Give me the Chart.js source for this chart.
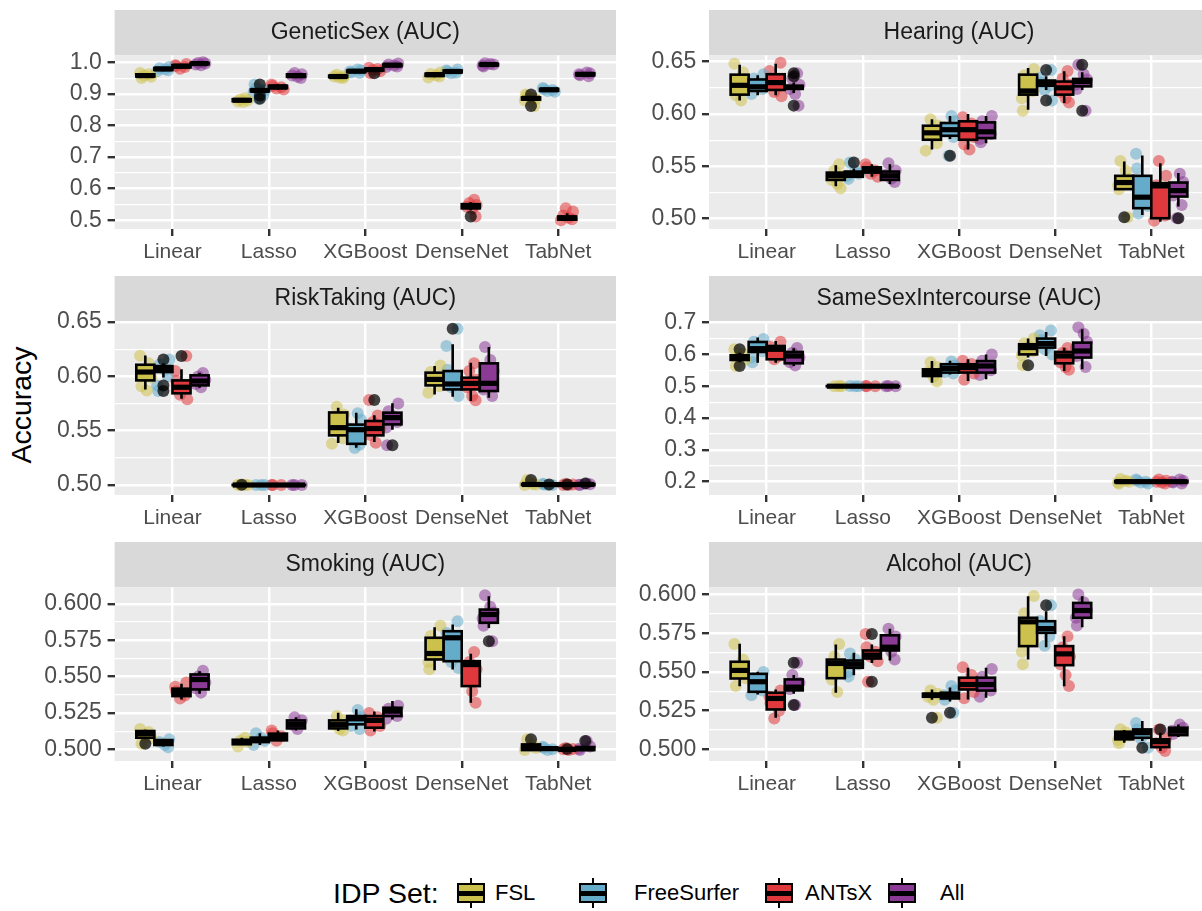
<!DOCTYPE html>
<html>
<head>
<meta charset="utf-8">
<script src="https://cdn.jsdelivr.net/npm/chart.js@4.4.0/dist/chart.umd.min.js"></script>
<style>
html, body { margin: 0; padding: 0; background: #fff; overflow: hidden; }
body { width: 1202px; height: 911px; position: relative; font-family: "Liberation Sans", Arial, sans-serif; }
canvas { position: absolute; }
#ylab { position: absolute; left: -79px; top: 388px; width: 200px; height: 34px; line-height: 34px;
        text-align: center; font-size: 28.5px; color: #000; transform: rotate(-90deg); }
.lg { position: absolute; }
.lg-title { font-size: 28.5px; color: #000; top: 876px; line-height: 34px; }
.lg-text { font-size: 22px; color: #000; top: 876px; line-height: 34px; }
.key { width: 32px; height: 34px; top: 876px; }
.key .wh { position: absolute; left: 14.7px; width: 2.6px; top: 2px; bottom: 2px; background: #000; }
.key .bx { position: absolute; left: 2px; right: 2px; top: 7px; bottom: 7px; border: 2.6px solid #000; box-sizing: border-box; }
.key .md { position: absolute; left: 2px; right: 2px; top: 14.5px; height: 5px; background: #000; }
</style>
</head>
<body>
<div id="ylab">Accuracy</div>
<script>
// categories
const MODELS = ['Linear', 'Lasso', 'XGBoost', 'DenseNet', 'TabNet'];
const SETS = ['FSL', 'FreeSurfer', 'ANTsX', 'All'];
const COLORS = ['#CDC14E', '#65ACCA', '#E0393D', '#8B3A95'];

// box stats per set, per model: [lower whisker, q1, median, q3, upper whisker]
const sexBoxes = [
  [[0.950,0.955,0.958,0.962,0.966],[0.874,0.877,0.880,0.883,0.886],[0.950,0.953,0.955,0.958,0.961],[0.953,0.957,0.961,0.964,0.968],[0.878,0.882,0.886,0.889,0.893]],
  [[0.972,0.976,0.979,0.982,0.985],[0.905,0.908,0.911,0.914,0.918],[0.966,0.969,0.972,0.974,0.977],[0.965,0.968,0.971,0.974,0.977],[0.907,0.910,0.913,0.916,0.919]],
  [[0.980,0.984,0.988,0.991,0.995],[0.914,0.918,0.922,0.926,0.930],[0.970,0.974,0.977,0.980,0.983],[0.532,0.538,0.543,0.551,0.558],[0.499,0.502,0.507,0.512,0.522]],
  [[0.991,0.994,0.996,0.998,1.000],[0.950,0.954,0.958,0.962,0.966],[0.985,0.988,0.991,0.993,0.996],[0.987,0.990,0.993,0.995,0.997],[0.956,0.959,0.962,0.965,0.968]]
];
const sexPoints = [
  [[0.966,0.962,0.958,0.954,0.950],[0.886,0.882,0.879,0.876,0.874],[0.961,0.957,0.955,0.952,0.950],[0.968,0.963,0.959,0.955,0.952],[0.893,0.888,0.884,0.879,0.898,0.862]],
  [[0.985,0.981,0.978,0.975,0.972],[0.918,0.913,0.910,0.906,0.930,0.895,0.885],[0.977,0.974,0.971,0.968,0.966],[0.977,0.974,0.971,0.967,0.965],[0.919,0.915,0.912,0.909,0.907]],
  [[0.995,0.991,0.988,0.985,0.980],[0.930,0.925,0.921,0.917,0.914],[0.983,0.979,0.976,0.972,0.965],[0.565,0.555,0.548,0.543,0.537,0.512],[0.538,0.528,0.515,0.508,0.503,0.500]],
  [[1.000,0.998,0.996,0.993,0.991],[0.966,0.962,0.958,0.954,0.950],[0.996,0.993,0.990,0.987,0.985],[0.997,0.995,0.993,0.990,0.987],[0.968,0.965,0.962,0.959,0.956]]
];
const sexOutliers = [
  [[],[],[],[],[0.898,0.862]],
  [[],[0.930,0.895,0.885],[],[],[]],
  [[],[],[0.965],[0.512],[]],
  [[],[],[],[],[]]
];

const hearBoxes = [
  [[0.613,0.6185,0.6274,0.6376,0.647],[0.531,0.537,0.541,0.544,0.551],[0.566,0.5754,0.582,0.5888,0.595],[0.604,0.6185,0.622,0.6376,0.644],[0.5275,0.5282,0.5345,0.5409,0.5546]],
  [[0.618,0.622,0.626,0.633,0.637],[0.539,0.540,0.542,0.545,0.548],[0.576,0.5792,0.585,0.5914,0.598],[0.623,0.627,0.629,0.632,0.636],[0.5035,0.510,0.5205,0.5409,0.5603]],
  [[0.618,0.623,0.630,0.638,0.648],[0.540,0.544,0.547,0.549,0.552],[0.566,0.5754,0.585,0.593,0.600],[0.6105,0.6185,0.625,0.631,0.6408],[0.497,0.5004,0.5313,0.5339,0.553]],
  [[0.620,0.624,0.6255,0.627,0.630],[0.533,0.537,0.541,0.545,0.552],[0.572,0.577,0.583,0.592,0.598],[0.623,0.6264,0.631,0.6335,0.640],[0.5115,0.5211,0.5268,0.5345,0.5435]]
];
const hearPoints = [
  [[0.648,0.640,0.633,0.625,0.618,0.613],[0.552,0.546,0.541,0.537,0.533,0.529],[0.595,0.589,0.584,0.579,0.572,0.565],[0.643,0.637,0.630,0.622,0.615,0.603],[0.555,0.546,0.538,0.532,0.528,0.5013]],
  [[0.638,0.634,0.629,0.624,0.619],[0.5537,0.546,0.543,0.541,0.538],[0.598,0.593,0.587,0.583,0.578,0.560],[0.642,0.635,0.630,0.627,0.623,0.613],[0.562,0.548,0.535,0.522,0.512,0.505]],
  [[0.649,0.641,0.634,0.627,0.621,0.617],[0.552,0.549,0.546,0.543,0.540],[0.597,0.591,0.585,0.578,0.571,0.566],[0.641,0.634,0.628,0.621,0.615,0.611],[0.555,0.541,0.532,0.515,0.503,0.498]],
  [[0.639,0.634,0.628,0.624,0.619,0.608],[0.553,0.546,0.542,0.538,0.535],[0.598,0.593,0.587,0.581,0.576,0.573],[0.647,0.638,0.633,0.628,0.624,0.603],[0.543,0.535,0.529,0.522,0.513,0.5004]]
];
const hearOutliers = [
  [[],[],[],[],[0.5013]],
  [[],[0.5537],[0.560],[0.642,0.613],[]],
  [[],[],[],[],[]],
  [[0.639,0.636,0.608],[],[],[0.647,0.603],[0.5004]]
];

const riskBoxes = [
  [[0.588,0.5963,0.604,0.6107,0.6193],[0.4998,0.4999,0.5000,0.5001,0.5002],[0.5386,0.5457,0.5528,0.5668,0.5712],[0.5834,0.5917,0.5972,0.6034,0.6095],[0.4999,0.5000,0.5005,0.5010,0.5012]],
  [[0.599,0.604,0.607,0.6095,0.612],[0.4999,0.4999,0.5000,0.5001,0.5001],[0.5344,0.5379,0.5509,0.5556,0.5666],[0.5813,0.588,0.593,0.6049,0.6295],[0.4999,0.5000,0.5004,0.5008,0.5012]],
  [[0.5795,0.5844,0.590,0.5963,0.6065],[0.4999,0.4999,0.5000,0.5001,0.5001],[0.5396,0.5457,0.552,0.5589,0.5641],[0.5773,0.588,0.5935,0.5988,0.6126],[0.4999,0.5000,0.5004,0.5008,0.5012]],
  [[0.5896,0.5917,0.5957,0.601,0.6034],[0.4999,0.4999,0.5000,0.5001,0.5001],[0.5509,0.5558,0.562,0.5666,0.5752],[0.5804,0.5865,0.5936,0.612,0.627],[0.4999,0.5000,0.5005,0.5008,0.5012]]
];
const riskPoints = [
  [[0.619,0.612,0.606,0.599,0.591,0.587],[0.5002,0.5000,0.4999,0.5003],[0.572,0.565,0.557,0.550,0.543,0.538],[0.610,0.604,0.598,0.591,0.585],[0.5045,0.5010,0.5005,0.5000]],
  [[0.6156,0.611,0.606,0.600,0.5917,0.5865],[0.5001,0.5000,0.4999],[0.566,0.560,0.552,0.545,0.537,0.534],[0.6439,0.628,0.606,0.598,0.590,0.582],[0.5012,0.5005,0.5000,0.4999]],
  [[0.6187,0.605,0.596,0.589,0.583,0.579],[0.5001,0.5000,0.4999],[0.5782,0.564,0.558,0.552,0.546,0.539],[0.612,0.605,0.597,0.590,0.582,0.578],[0.5012,0.5005,0.5000,0.4999]],
  [[0.603,0.600,0.597,0.593,0.590],[0.5001,0.5000,0.4999],[0.575,0.568,0.563,0.558,0.553,0.5365],[0.627,0.615,0.605,0.595,0.588,0.582],[0.5015,0.5008,0.5003,0.5000]]
];
const riskOutliers = [
  [[],[0.5003],[],[],[0.5045]],
  [[0.6156,0.5917,0.5865],[],[],[0.6439],[0.5005]],
  [[0.6187],[],[0.5782],[],[0.5005]],
  [[],[],[0.5365],[],[0.5015]]
];

const ssiBoxes = [
  [[0.575,0.5824,0.590,0.597,0.605],[0.4995,0.4998,0.500,0.5002,0.5005],[0.511,0.532,0.5428,0.553,0.579],[0.590,0.600,0.6214,0.6318,0.650],[0.195,0.198,0.200,0.202,0.205]],
  [[0.574,0.6076,0.618,0.639,0.653],[0.4995,0.4998,0.500,0.5002,0.5005],[0.537,0.5428,0.556,0.569,0.580],[0.595,0.6214,0.634,0.6497,0.670],[0.196,0.198,0.200,0.202,0.204]],
  [[0.574,0.5846,0.616,0.6264,0.642],[0.4995,0.4998,0.500,0.5002,0.5005],[0.5164,0.5428,0.5585,0.569,0.5846],[0.548,0.572,0.595,0.6076,0.621],[0.196,0.198,0.200,0.202,0.204]],
  [[0.5635,0.572,0.595,0.6076,0.6195],[0.4995,0.4998,0.500,0.5002,0.5005],[0.5217,0.5428,0.5635,0.579,0.600],[0.553,0.590,0.6107,0.637,0.679],[0.196,0.198,0.200,0.202,0.204]]
];
const ssiPoints = [
  [[0.616,0.602,0.592,0.584,0.5635],[0.5005,0.500,0.4995],[0.575,0.560,0.545,0.530,0.515],[0.650,0.635,0.625,0.610,0.597,0.5657],[0.208,0.203,0.200,0.197,0.193]],
  [[0.648,0.640,0.625,0.610,0.590,0.575],[0.5005,0.500,0.4995],[0.578,0.565,0.555,0.545,0.540],[0.675,0.660,0.645,0.630,0.615,0.600],[0.207,0.203,0.200,0.197,0.194]],
  [[0.640,0.625,0.610,0.595,0.585],[0.5005,0.500,0.4995],[0.580,0.570,0.555,0.540,0.520],[0.620,0.605,0.590,0.575,0.560,0.552],[0.207,0.203,0.200,0.197,0.194]],
  [[0.620,0.605,0.590,0.575,0.565],[0.5005,0.500,0.4995],[0.600,0.580,0.565,0.550,0.535],[0.685,0.665,0.640,0.620,0.595,0.560],[0.207,0.203,0.200,0.197,0.194]]
];
const ssiOutliers = [
  [[0.616,0.5635],[],[],[0.5657],[]],
  [[],[],[],[],[]],
  [[],[],[],[],[]],
  [[],[],[],[],[]]
];

const smkBoxes = [
  [[0.5075,0.508,0.5108,0.5126,0.5135],[0.503,0.5035,0.5053,0.5066,0.508],[0.5126,0.5144,0.517,0.5199,0.5252],[0.5544,0.5618,0.5659,0.5767,0.584],[0.4993,0.4995,0.5016,0.5034,0.5045]],
  [[0.502,0.503,0.5046,0.5064,0.507],[0.503,0.505,0.5069,0.508,0.511],[0.5137,0.5172,0.521,0.5229,0.5275],[0.5549,0.5606,0.5767,0.5812,0.5858],[0.4995,0.4998,0.5005,0.501,0.5015]],
  [[0.5343,0.5366,0.539,0.5417,0.5451],[0.5057,0.5062,0.5085,0.5108,0.513],[0.5123,0.5149,0.5199,0.5229,0.526],[0.532,0.5435,0.5583,0.5606,0.5657],[0.4995,0.4998,0.500,0.5005,0.501]],
  [[0.5382,0.5412,0.548,0.5515,0.5537],[0.513,0.5144,0.5172,0.5199,0.5221],[0.5206,0.5229,0.5263,0.5286,0.5332],[0.5835,0.587,0.5927,0.5961,0.6052],[0.4993,0.4995,0.5005,0.5016,0.502]]
];
const smkPoints = [
  [[0.514,0.512,0.510,0.508,0.5039],[0.508,0.506,0.505,0.502],[0.523,0.520,0.517,0.514,0.513],[0.585,0.578,0.570,0.565,0.560,0.555],[0.5069,0.503,0.501,0.4995]],
  [[0.507,0.505,0.503,0.5015],[0.511,0.508,0.506,0.503],[0.527,0.522,0.520,0.516,0.514],[0.588,0.580,0.575,0.568,0.560,0.556],[0.5018,0.501,0.500,0.4995]],
  [[0.546,0.543,0.540,0.537,0.535],[0.513,0.511,0.509,0.506],[0.525,0.522,0.519,0.516,0.513],[0.567,0.560,0.555,0.548,0.540,0.532],[0.501,0.5003,0.500,0.4996]],
  [[0.554,0.550,0.546,0.542,0.539],[0.522,0.520,0.517,0.514],[0.530,0.528,0.526,0.523,0.521],[0.606,0.598,0.594,0.590,0.585,0.5743],[0.5057,0.502,0.5005,0.4995]]
];
const smkOutliers = [
  [[0.5039],[],[],[],[0.5069]],
  [[],[],[],[],[]],
  [[],[],[],[],[0.5003]],
  [[],[],[],[0.5743],[0.5057]]
];

const alcBoxes = [
  [[0.5408,0.5458,0.551,0.5566,0.5682],[0.5366,0.546,0.5555,0.558,0.5677],[0.532,0.534,0.535,0.536,0.5387],[0.5581,0.5667,0.5824,0.585,0.5989],[0.5043,0.5065,0.509,0.5114,0.5126]],
  [[0.5355,0.5372,0.5437,0.5488,0.5502],[0.5479,0.5527,0.555,0.5574,0.5624],[0.531,0.5329,0.535,0.5366,0.540],[0.566,0.5753,0.578,0.5828,0.5892],[0.5054,0.5075,0.5108,0.5129,0.5183]],
  [[0.5204,0.5258,0.5329,0.5366,0.5387],[0.5558,0.5587,0.5609,0.5639,0.5677],[0.5323,0.5387,0.5419,0.5463,0.5527],[0.5408,0.5544,0.5617,0.5667,0.5731],[0.499,0.5015,0.505,0.5065,0.5108]],
  [[0.536,0.5381,0.5402,0.5452,0.548],[0.5574,0.5639,0.566,0.5737,0.578],[0.5333,0.538,0.5419,0.5463,0.5527],[0.5789,0.585,0.5897,0.5946,0.5989],[0.508,0.5092,0.5118,0.514,0.516]]
];
const alcPoints = [
  [[0.568,0.558,0.552,0.546,0.541],[0.568,0.560,0.553,0.545,0.537],[0.538,0.536,0.534,0.532,0.5205],[0.599,0.588,0.578,0.570,0.563,0.555],[0.513,0.511,0.509,0.506,0.504]],
  [[0.550,0.546,0.542,0.538,0.535],[0.562,0.558,0.555,0.550,0.547],[0.541,0.538,0.535,0.532,0.5237],[0.5931,0.583,0.578,0.573,0.567],[0.517,0.513,0.510,0.507,0.5011]],
  [[0.538,0.534,0.530,0.525,0.520],[0.5746,0.566,0.563,0.560,0.557,0.5437],[0.553,0.548,0.542,0.537,0.533],[0.573,0.566,0.560,0.555,0.548,0.541],[0.5129,0.507,0.504,0.501,0.499]],
  [[0.556,0.548,0.543,0.539,0.5286],[0.578,0.573,0.568,0.563,0.558],[0.552,0.547,0.542,0.538,0.534],[0.600,0.595,0.590,0.585,0.580],[0.516,0.514,0.512,0.510]]
];
const alcOutliers = [
  [[],[],[0.5205],[],[]],
  [[],[],[0.5237],[0.5931],[0.5011]],
  [[],[0.5746,0.5437],[],[],[0.5129]],
  [[0.556,0.5286],[],[],[],[]]
];

// y tick labels per panel and axis limits
const sexTicks = [0.5, 0.6, 0.7, 0.8, 0.9, 1.0];
const hearTicks = [0.50, 0.55, 0.60, 0.65];
const riskTicks = [0.50, 0.55, 0.60, 0.65];
const ssiTicks = [0.2, 0.3, 0.4, 0.5, 0.6, 0.7];
const smkTicks = [0.500, 0.525, 0.550, 0.575, 0.600];
const alcTicks = [0.500, 0.525, 0.550, 0.575, 0.600];
const sexRange = [0.4724, 1.0222];
const hearRange = [0.4901, 0.6561];
const riskRange = [0.4908, 0.6507];
const ssiRange = [0.158, 0.704];
const smkRange = [0.492, 0.6114];
const alcRange = [0.4925, 0.6047];

const FONT = "'Liberation Sans', Arial, sans-serif";
const DODGE = [-0.28125, -0.09375, 0.09375, 0.28125];
const HALF = 0.09375;
const JIT = [-0.055, 0.035, -0.015, 0.06, -0.04, 0.015, 0.05, -0.065];

function rgba(hex, a) {
  const n = parseInt(hex.slice(1), 16);
  return `rgba(${n >> 16},${(n >> 8) & 255},${n & 255},${a})`;
}

const panelBg = {
  id: 'panelBg',
  beforeDraw(chart) {
    const { ctx, chartArea: a } = chart;
    const t = chart.titleBlock;
    ctx.save();
    ctx.fillStyle = '#D9D9D9';
    ctx.fillRect(a.left, t.top, a.right - a.left, a.top - t.top);
    ctx.fillStyle = '#EBEBEB';
    ctx.fillRect(a.left, a.top, a.right - a.left, a.bottom - a.top);
    ctx.restore();
  }
};

function boxPlugin(boxes) {
  return {
    id: 'boxes',
    afterDatasetsDraw(chart) {
      const { ctx, scales: { x, y } } = chart;
      ctx.save();
      ctx.strokeStyle = '#000';
      boxes.forEach((bySet, s) => bySet.forEach((b, m) => {
        const c = m + 1 + DODGE[s];
        const cx = x.getPixelForValue(c);
        const x0 = x.getPixelForValue(c - HALF);
        const x1 = x.getPixelForValue(c + HALF);
        const [lo, q1, md, q3, hi] = b.map(v => y.getPixelForValue(v));
        ctx.lineWidth = 2.6;
        ctx.beginPath();
        ctx.moveTo(cx, q3); ctx.lineTo(cx, hi);
        ctx.moveTo(cx, q1); ctx.lineTo(cx, lo);
        ctx.stroke();
        ctx.fillStyle = COLORS[s];
        ctx.fillRect(x0, q3, x1 - x0, q1 - q3);
        ctx.strokeRect(x0, q3, x1 - x0, q1 - q3);
        ctx.lineWidth = 5.2;
        ctx.beginPath();
        ctx.moveTo(x0, md); ctx.lineTo(x1, md);
        ctx.stroke();
      }));
      ctx.restore();
    }
  };
}

function makePanel(p) {
  const canvas = document.createElement('canvas');
  canvas.width = p.width;
  canvas.height = 259;
  canvas.style.left = p.left + 'px';
  canvas.style.top = p.top + 'px';
  document.body.appendChild(canvas);

  const outs = [];
  p.outliers.forEach((bySet, s) => bySet.forEach((vals, m) => vals.forEach(v => outs.push({ x: m + 1 + DODGE[s], y: v }))));
  const datasets = [{ data: outs, order: 0, pointRadius: 6, pointBorderWidth: 0, backgroundColor: 'rgba(0,0,0,0.72)' }];
  SETS.forEach((name, s) => {
    const pts = [];
    p.points[s].forEach((vals, m) => vals.forEach((v, k) => {
      pts.push({ x: m + 1 + DODGE[s] + JIT[(k + m + s * 3) % JIT.length], y: v });
    }));
    datasets.push({ label: name, data: pts, order: 1, pointRadius: 6, pointBorderWidth: 0, backgroundColor: rgba(COLORS[s], 0.55) });
  });

  const minor = p.ticks.slice(1).map((v, i) => (v + p.ticks[i]) / 2);

  new Chart(canvas, {
    type: 'scatter',
    data: { datasets },
    options: {
      responsive: false,
      animation: false,
      devicePixelRatio: 1,
      layout: { padding: 0 },
      plugins: {
        legend: { display: false },
        tooltip: { enabled: false },
        title: {
          display: true, text: p.title, fullSize: false, color: '#1A1A1A',
          font: { family: FONT, size: 23, weight: 'normal', lineHeight: 1.2 },
          padding: { top: 8.85, bottom: 8.85 }
        }
      },
      scales: {
        x: {
          type: 'linear', min: 0.4, max: 5.6,
          afterBuildTicks: s => { s.ticks = MODELS.map((_, i) => ({ value: i + 1 })); },
          afterFit: s => { s.height = 40; },
          ticks: { autoSkip: false, maxRotation: 0, padding: 4, color: '#4D4D4D',
                   font: { family: FONT, size: 21 }, callback: v => MODELS[v - 1] },
          grid: { color: '#FFFFFF', lineWidth: 2.4, tickColor: '#333333', tickLength: 7, tickWidth: 2.4 },
          border: { display: false }
        },
        y: {
          type: 'linear', min: p.range[0], max: p.range[1],
          afterBuildTicks: s => {
            s.ticks = p.ticks.map(v => ({ value: v })).concat(minor.map(v => ({ value: v, minor: true })))
              .sort((a, b) => a.value - b.value);
          },
          afterFit: s => { s.width = p.yAxisW; },
          ticks: { autoSkip: false, padding: 5.8, color: '#4D4D4D', font: { family: FONT, size: 23 },
                   callback: (v, i, t) => t[i].minor ? '' : v.toFixed(p.dec) },
          grid: {
            color: '#FFFFFF',
            lineWidth: c => (c.tick && c.tick.minor ? 1.2 : 2.4),
            tickColor: c => (c.tick && c.tick.minor ? 'rgba(0,0,0,0)' : '#333333'),
            tickLength: 7, tickWidth: 2.4
          },
          border: { display: false }
        }
      }
    },
    plugins: [panelBg, boxPlugin(p.boxes)]
  });
}

const ROWS = [10.4, 276.4, 542.4];
const LEFT = { left: 0, width: 622, yAxisW: 114.6 };
const RIGHT = { left: 630, width: 585, yAxisW: 79 };

makePanel({ ...LEFT, top: ROWS[0], title: 'GeneticSex (AUC)', boxes: sexBoxes, points: sexPoints, outliers: sexOutliers, ticks: sexTicks, range: sexRange, dec: 1 });
makePanel({ ...RIGHT, top: ROWS[0], title: 'Hearing (AUC)', boxes: hearBoxes, points: hearPoints, outliers: hearOutliers, ticks: hearTicks, range: hearRange, dec: 2 });
makePanel({ ...LEFT, top: ROWS[1], title: 'RiskTaking (AUC)', boxes: riskBoxes, points: riskPoints, outliers: riskOutliers, ticks: riskTicks, range: riskRange, dec: 2 });
makePanel({ ...RIGHT, top: ROWS[1], title: 'SameSexIntercourse (AUC)', boxes: ssiBoxes, points: ssiPoints, outliers: ssiOutliers, ticks: ssiTicks, range: ssiRange, dec: 1 });
makePanel({ ...LEFT, top: ROWS[2], title: 'Smoking (AUC)', boxes: smkBoxes, points: smkPoints, outliers: smkOutliers, ticks: smkTicks, range: smkRange, dec: 3 });
makePanel({ ...RIGHT, top: ROWS[2], title: 'Alcohol (AUC)', boxes: alcBoxes, points: alcPoints, outliers: alcOutliers, ticks: alcTicks, range: alcRange, dec: 3 });

// legend
const keyLeft = [455, 577, 763, 886];
const labLeft = [495, 634, 805, 940];
function addEl(cls, left, html) {
  const d = document.createElement('div');
  d.className = cls;
  d.style.left = left + 'px';
  d.innerHTML = html;
  document.body.appendChild(d);
  return d;
}
addEl('lg lg-title', 333, 'IDP Set:');
SETS.forEach((name, s) => {
  const k = addEl('lg key', keyLeft[s], '<div class="wh"></div><div class="bx"></div><div class="md"></div>');
  k.querySelector('.bx').style.background = COLORS[s];
  addEl('lg lg-text', labLeft[s], name);
});
</script>
</body>
</html>
